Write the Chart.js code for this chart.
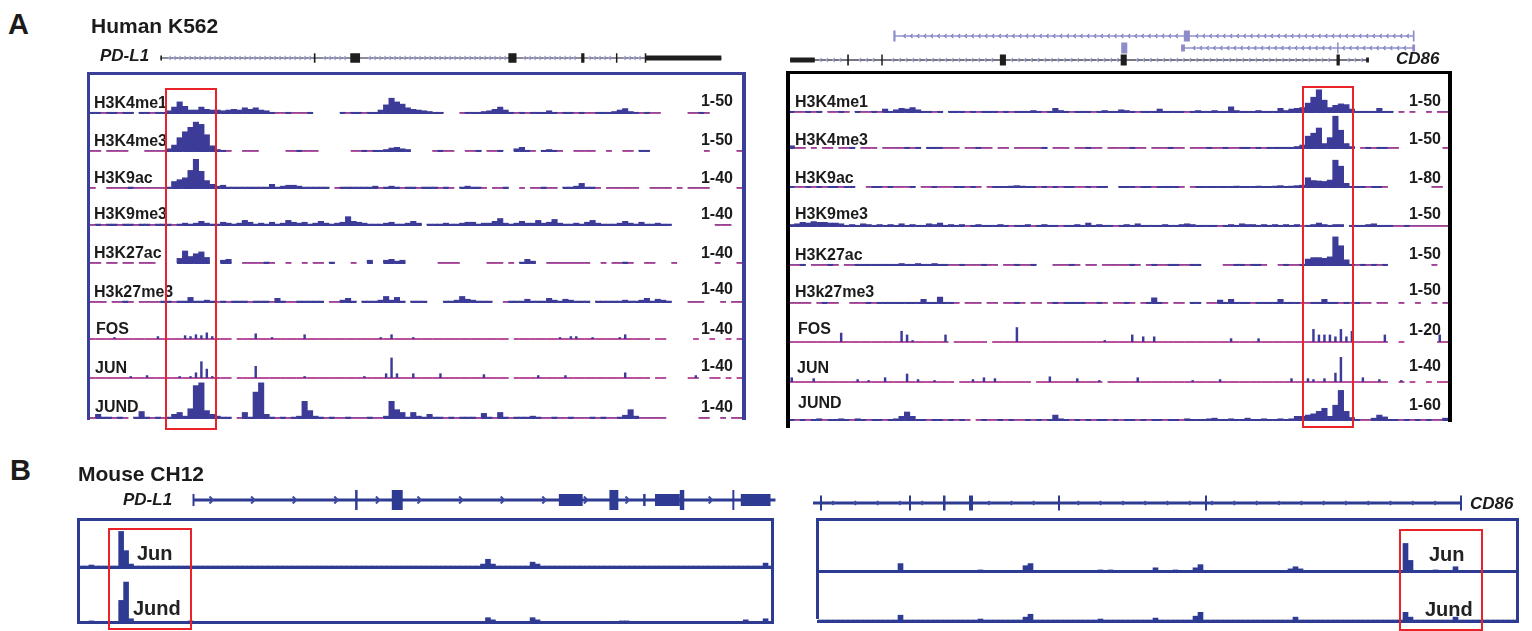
<!DOCTYPE html>
<html>
<head>
<meta charset="utf-8">
<title>PD-L1 / CD86 tracks</title>
<script src="https://cdn.jsdelivr.net/npm/chart.js@4.4.1/dist/chart.umd.min.js"></script>
<style>
  body { margin: 0; background: #fff; }
  #page { position: relative; width: 1532px; height: 631px; overflow: hidden; font-family: "Liberation Sans", Arial, Helvetica, sans-serif; }
  #page canvas, #page .txt, #page .rule { position: absolute; }
  .txt { white-space: nowrap; font-weight: bold; color: #1b1b1b; }
</style>
</head>
<body>
<div id="page"></div>
<script>
// ---- data ----------------------------------------------------------------
const markNames = ["H3K4me1", "H3K4me3", "H3K9ac", "H3K9me3", "H3K27ac", "H3k27me3", "FOS", "JUN", "JUND"]
const pdl1Scales = ["1-50", "1-50", "1-40", "1-40", "1-40", "1-40", "1-40", "1-40", "1-40"]
const cd86Scales = ["1-50", "1-50", "1-80", "1-50", "1-50", "1-50", "1-20", "1-40", "1-60"]
const spikyTracks = ["FOS", "JUN"]

// genome bins across each browser window (null = no coverage)
const humanBins = Array.from({ length: 120 }, (_, i) => i)
const mouseBins = Array.from({ length: 140 }, (_, i) => i)

// K562, PD-L1 locus
const pdl1H3K4me1 = [
  1, 1, 0, 1, 1, 0, 1, 1, null, 1,
  1, 0, 1, 1, 3, 8, 15, 9, 4, 4,
  8, 5, 4, 4, 3, 4, 5, 4, 7, 5,
  7, 4, 3, 1, 0, 0, 1, 0, 0, 0,
  1, null, null, null, null, null, 1, 0, 1, 1,
  0, 1, 1, 4, 11, 20, 15, 12, 7, 5,
  4, 3, 2, 1, 1, null, null, null, 0, 1,
  1, 1, 2, 3, 5, 8, 4, 1, 0, 1,
  0, 1, 1, 1, 3, 1, 0, 1, 1, 0,
  1, 0, 0, 1, 1, 1, 2, 4, 6, 2,
  1, 0, 1, 0, 0, null, null, null, null, null,
  0, 0, 1, 0, null, null, null, null, null, null,
]
const pdl1H3K4me3 = [
  0, 0, null, 0, 0, 0, 0, null, null, null,
  0, 0, 0, 0, 3, 8, 18, 26, 32, 39,
  36, 22, 7, 2, 1, 0, null, null, 0, 0,
  0, null, null, null, null, null, 0, 0, 1, 0,
  0, 0, null, null, null, null, null, null, 0, 0,
  1, 0, 1, 1, 2, 4, 5, 3, 2, null,
  null, null, null, 0, 1, 0, 0, null, null, 0,
  0, 1, null, 0, 0, 1, null, null, 3, 5,
  1, 0, null, 1, 2, 1, 0, null, null, 0,
  0, 0, 0, null, null, 0, null, null, 0, 0,
  null, 1, 1, null, null, null, null, null, null, null,
  null, null, null, 0, null, null, null, null, null, 0,
]
const pdl1H3K9ac = [
  0, null, null, 0, 0, 0, 0, 1, 0, 0,
  0, 0, 0, 0, 1, 7, 9, 11, 19, 31,
  18, 8, 4, 2, 3, 1, 1, 1, 1, 1,
  1, 1, 1, 4, 1, 2, 3, 3, 2, 1,
  1, 1, 1, 1, null, 0, 1, 1, 1, 1,
  1, 1, 2, 0, 1, 2, 1, 0, 1, 1,
  0, 1, 1, 1, 0, 1, 0, null, 1, 2,
  1, 1, 0, null, 0, 0, 1, null, null, 0,
  null, 0, 0, 1, 0, 0, null, 1, 1, 2,
  5, 1, 1, 0, null, 0, 0, 0, 0, 0,
  0, null, null, 0, 0, 0, 0, null, 0, null,
  0, 0, 0, 0, null, null, null, null, null, 0,
]
const pdl1H3K9me3 = [
  0, 1, 0, 1, 1, 0, 1, 1, 0, 1,
  1, 0, 1, 1, 1, 0, 1, 2, 1, 2,
  4, 2, 1, 1, 3, 2, 1, 2, 5, 3,
  1, 2, 1, 3, 1, 2, 5, 3, 2, 3,
  1, 2, 4, 2, 1, 2, 3, 9, 4, 3,
  2, 1, 1, 1, 2, 3, 1, 1, 2, 4,
  2, null, 1, 1, 1, 2, 1, 1, 2, 3,
  3, 1, 2, 2, 4, 7, 2, 1, 2, 4,
  2, 2, 5, 2, 3, 6, 2, 1, 1, 2,
  1, 3, 5, 2, 1, 1, 1, 2, 4, 2,
  1, 3, 1, 1, 2, 1, 1, null, null, null,
  null, null, null, null, null, 0, 0, 0, null, null,
]
const pdl1H3K27ac = [
  0, 0, null, 0, 0, null, 0, 0, null, 0,
  0, 0, null, null, null, null, 5, 13, 7, 10,
  12, 6, null, null, 3, 4, null, null, 0, 0,
  0, 0, 1, 0, null, null, 0, null, null, 0,
  null, 0, 0, null, 1, null, null, null, 0, null,
  null, 3, null, null, 3, 4, 2, 3, null, null,
  null, null, null, null, 0, 0, 0, 0, null, null,
  null, null, null, 0, 0, 0, null, 0, null, 1,
  4, 2, null, null, 0, 0, 0, 0, 0, 0,
  0, 0, null, null, 0, null, 0, 0, 1, 0,
  null, null, 0, 0, null, null, null, 0, null, null,
  null, null, null, null, null, 0, null, null, null, 0,
]
const pdl1H3k27me3 = [
  0, 0, 0, null, 0, 0, 1, 0, null, 0,
  0, 0, 0, 1, 1, 0, 1, 1, 5, 1,
  1, 2, 1, 0, 1, 0, 1, 1, 1, 0,
  1, 1, 1, 0, 4, 1, 0, 0, 1, 1,
  1, 1, 1, null, 0, 0, 2, 4, 1, null,
  1, 1, 1, 2, 6, 2, 5, 1, null, 1,
  1, 1, null, null, null, 1, 1, 2, 6, 3,
  2, 1, 1, 1, null, null, 0, 1, 1, 1,
  3, 1, 1, 1, 4, 2, 1, 3, 2, 1,
  1, 1, null, 1, 1, 1, 1, 1, 2, 1,
  1, 2, 4, 1, 3, 2, 1, null, null, null,
  0, 0, 0, null, null, null, 0, null, 0, 0,
]
const pdl1Fos = [
  0, 0, 0, 0, 2, 0, 0, 0, 0, 0,
  0, 0, 3, 0, 0, 0, 0, 4, 3, 5,
  4, 7, 3, 0, 0, 0, null, 0, 0, 0,
  6, 0, 0, 2, 0, 0, 0, 0, 0, 5,
  0, 0, 0, 0, 0, 0, 0, 0, 0, 0,
  0, 0, 0, 2, 0, 5, 0, 0, 0, 2,
  0, 0, 0, 0, 0, 0, 0, 0, 0, 0,
  0, 0, 0, 0, 0, 0, 0, null, 0, 0,
  0, 0, 0, 0, 0, 0, 2, 0, 3, 3,
  0, 0, 2, 0, 0, 0, 0, 2, 5, 0,
  0, 0, 0, null, 0, 0, null, null, null, null,
  null, 0, null, null, 0, null, null, 0, null, 0,
]
const pdl1Jun = [
  0, 0, 0, 0, 0, 0, 0, 2, 0, 0,
  3, 0, 0, 0, 0, 0, 2, 0, 2, 6,
  18, 10, 2, 0, 0, 0, null, 0, 0, 0,
  13, 0, 0, 0, 0, 0, 0, 0, 0, 2,
  0, 0, 0, 0, 0, 0, 0, 0, 0, 0,
  2, 0, 0, 0, 5, 22, 5, 0, 0, 5,
  0, 0, 0, 0, 5, 0, 0, 0, 0, 0,
  0, 0, 4, 0, 0, 0, 0, null, 0, 0,
  0, 0, 3, 0, 0, 0, 0, 3, 0, 0,
  0, 0, 0, 0, 0, 0, 0, 0, 6, 0,
  0, 0, 0, null, 0, 0, null, null, null, null,
  0, 3, null, null, 0, 0, null, 0, null, 0,
]
const pdl1Jund = [
  0, 4, 1, 1, 0, 1, 0, null, 1, 7,
  1, 0, 1, 0, 1, 4, 6, 2, 10, 35,
  38, 8, 4, 2, 1, 1, null, 0, 6, 1,
  28, 38, 4, 1, 0, 1, 0, 1, 2, 18,
  8, 2, 1, 0, 1, 0, 0, 1, 0, 0,
  0, 1, 0, 0, 2, 18, 9, 6, 1, 6,
  2, 1, 4, 1, 1, 0, 1, 0, 1, 1,
  1, 0, 5, 1, 0, 6, 1, 0, 1, 1,
  1, 2, 1, 0, 0, 1, 0, 0, 1, 0,
  0, 0, 1, 0, 1, 0, 0, 1, 3, 9,
  2, 0, 0, 0, 0, 0, null, null, null, null,
  null, null, 0, 0, null, null, 0, null, 0, 0,
]

// K562, CD86 locus
const cd86H3K4me1 = [
  1, 0, 0, 1, 0, 1, null, 0, 0, 1,
  0, null, 1, 0, 0, 1, 0, 4, 1, 3,
  5, 4, 6, 3, 1, 1, 0, 1, null, 1,
  1, 1, 0, 1, 0, 1, 1, 1, 0, 1,
  0, 1, 1, 1, 2, 1, 0, 1, 5, 2,
  1, 0, 1, 1, 1, 0, 1, 2, 1, 1,
  3, 2, 1, 0, 1, 1, 1, 4, 1, 1,
  1, 1, 0, 1, 2, 1, 1, 2, 1, 1,
  7, 2, 1, 1, 1, 2, 1, 1, 1, 5,
  2, 4, 5, 6, 12, 20, 30, 16, 6, 9,
  11, 10, 4, 1, 1, 1, 1, 5, 1, 1,
  null, 0, null, 0, null, null, 0, null, 0, 0,
]
const cd86H3K4me3 = [
  3, 0, 0, null, 0, null, 0, 0, null, 0,
  0, 1, null, 0, 0, 0, null, 0, 0, 0,
  0, 1, 0, 1, null, 1, 1, 1, 0, 0,
  0, null, 0, 0, 1, 0, 0, null, 0, 0,
  null, 0, 0, 0, 0, 0, 1, null, 0, 0,
  0, null, 0, 0, 1, 0, 0, null, 0, 0,
  0, 0, 1, 0, 0, null, 0, 0, 0, 1,
  0, 0, null, 0, 0, 0, 1, 0, 0, 1,
  0, 0, 1, 1, 0, 1, 0, 1, 1, 1,
  1, 1, 2, 4, 16, 20, 27, 6, 14, 43,
  24, 6, 2, null, 0, 1, 0, 1, 1, 0,
  0, null, null, null, null, null, null, null, null, 0,
]
const cd86H3K9ac = [
  1, 0, 0, 1, 0, 1, 0, 1, 1, 0,
  1, 1, null, null, 0, 1, 1, 0, 1, 0,
  0, 0, 1, null, 0, 0, 1, 0, 0, 0,
  1, 1, 0, 1, 0, null, 0, 1, 1, 1,
  2, 3, 2, 1, 1, 0, 1, 0, 1, 0,
  1, 1, 0, 0, 1, 0, 1, 1, null, null,
  1, 1, 1, 0, 1, 1, 0, 1, 1, 1,
  1, 0, null, 0, 1, 1, 1, 1, 1, 1,
  1, 2, 1, 1, 1, 2, 1, 1, 2, 3,
  1, 2, 3, 4, 20, 14, 13, 12, 15, 58,
  45, 8, 1, 1, 1, 0, 1, 1, 0, null,
  null, null, null, null, null, null, null, 0, 0, null,
]
const cd86H3K9me3 = [
  2, 3, 5, 4, 6, 5, 5, 4, 4, 3,
  1, 2, 1, 3, 2, 1, 2, 1, 2, 1,
  3, 1, 2, 1, 1, 3, 2, 4, 1, 2,
  1, 2, 0, 1, 2, 1, 1, 1, 2, 1,
  0, 1, 1, 2, 0, 1, 2, 1, 1, 0,
  1, 1, 2, 1, 4, 1, 2, 1, 1, 0,
  1, 2, 1, 3, 1, 1, 1, 1, 2, 1,
  1, 2, 3, 2, 1, 1, 1, 1, 0, 1,
  2, 1, 3, 2, 2, 1, 2, 1, 2, 1,
  2, 1, 2, 0, 1, 2, 4, 2, 1, 2,
  2, null, 1, 1, 1, 2, 3, 1, 1, 1,
  0, 0, 1, 0, 0, 0, 0, 0, 0, 0,
]
const cd86H3K27ac = [
  0, 0, 1, null, 0, 0, 0, 1, 0, null,
  0, 0, 1, 1, 1, 1, 1, 1, 1, 1,
  2, 1, 1, 2, 1, 1, 2, 1, 1, 0,
  0, 1, 0, 0, 0, 1, 0, 0, null, 0,
  0, 1, 0, 0, 1, null, null, null, 0, 0,
  0, 1, 0, null, 0, 0, null, 0, 0, 0,
  0, 0, 1, 0, null, 0, 1, 0, 0, 1,
  1, 0, 0, 1, 1, null, null, null, null, 0,
  0, 1, 1, 0, 1, 1, 0, null, null, 0,
  1, 0, 0, 1, 8, 10, 10, 9, 11, 38,
  26, 7, 1, 0, 1, 0, 1, 0, 1, null,
  null, null, null, null, null, null, null, 0, null, null,
]
const cd86H3k27me3 = [
  0, 0, 0, 0, null, 0, 1, 0, 0, null,
  null, 0, 0, 0, 1, 0, 1, 1, 1, 1,
  1, 1, 1, 1, 5, 1, 1, 8, 1, 1,
  0, null, 0, 0, 0, null, 0, 0, null, 0,
  0, 1, 0, null, 0, 0, null, 0, 1, 0,
  1, 1, 1, 1, 0, 0, 1, 0, null, 0,
  0, 1, 0, null, 0, 1, 7, 1, 0, null,
  0, 0, null, 1, 1, null, 0, 0, 4, 1,
  5, 1, 1, 1, 0, 1, 1, 1, 1, 5,
  1, 1, 1, 0, 0, 1, 1, 5, 1, 1,
  0, 1, 0, 1, 0, 0, null, 0, 0, null,
  null, 0, null, null, 0, null, null, 0, null, 0,
]
const cd86Fos = [
  0, 0, 0, 0, 0, 0, 0, 0, 0, 5,
  0, 0, 0, 0, 0, 0, 0, 0, 0, 0,
  6, 4, 1, 0, 0, 0, 0, 0, 4, null,
  0, 0, 0, 0, 0, 0, null, 0, 0, 0,
  0, 8, 0, 0, 0, 0, 0, 0, 0, 0,
  0, 0, 0, 0, 0, 0, 0, 1, 0, 0,
  0, 0, 4, 0, 3, 0, 3, 0, 0, 0,
  0, 0, 0, 0, 0, 0, 0, 0, 0, 0,
  2, 0, 0, 0, 0, 2, 0, 0, 0, 0,
  0, 0, 0, 0, 0, 7, 4, 4, 4, 3,
  7, 3, 6, 0, 0, 0, 0, 0, 4, null,
  null, 0, null, null, null, null, null, null, 4, 0,
]
const cd86Jun = [
  5, 0, 0, 0, 4, 0, 0, 0, 0, 0,
  0, 0, 3, 0, 2, 0, 0, 5, 0, 0,
  0, 9, 0, 3, 0, 0, 2, 0, 0, 0,
  null, 0, 0, 3, 0, 5, 0, 4, 0, 0,
  0, 0, 0, 0, null, 0, 0, 6, 0, 0,
  0, 0, 4, 0, 0, 0, 2, null, 0, 0,
  0, 0, 0, 5, 0, 0, 0, 0, 0, 0,
  0, 0, 0, 2, 0, 0, 0, 0, 3, 0,
  0, 0, 0, 0, 0, 0, 0, 0, 0, 0,
  0, 4, 0, 0, 4, 3, 0, 4, 0, 10,
  27, 0, 0, 0, 5, 0, 0, 3, 0, null,
  null, 2, null, 0, null, null, 0, null, 0, 0,
]
const cd86Jund = [
  1, 0, 1, 0, 1, 2, 0, 1, 1, 2,
  1, 0, 2, 1, 0, 1, 1, 0, 1, 2,
  6, 13, 6, 1, 1, 0, 1, 1, 0, 1,
  0, 1, 0, null, 0, 1, 0, 0, 1, 0,
  1, 0, 0, 1, 0, 1, 0, 1, 8, 2,
  1, 0, 1, 0, 1, 0, 1, 1, 0, 1,
  0, 1, 1, 0, 1, 0, 1, 1, 0, 1,
  1, 0, 2, 1, 1, 1, 2, 3, 1, 1,
  2, 1, 1, 3, 1, 1, 2, 1, 1, 2,
  1, 2, 6, 6, 8, 10, 14, 19, 6, 24,
  48, 14, 4, 1, 0, 0, 3, 8, 5, 1,
  1, 0, 1, 0, 1, 0, 1, 0, 0, 3,
]

// CH12 (mouse), scale 0-50
const mousePdl1Jun = [
  0, 0, 1, 0, 0, 0, 0, 0, 36, 16,
  2, 0, 0, 0, 0, 0, 0, 0, 0, 0,
  0, 0, 0, 0, 0, 0, 0, 0, 0, 0,
  0, 0, 0, 0, 0, 0, 0, 0, 0, 0,
  0, 0, 0, 0, 0, 0, 0, 0, 0, 0,
  0, 0, 0, 0, 0, 0, 0, 0, 0, 0,
  0, 0, 0, 0, 0, 0, 0, 0, 0, 0,
  0, 0, 0, 0, 0, 0, 0, 0, 0, 0,
  0, 2, 7, 2, 0, 0, 0, 0, 0, 0,
  0, 4, 2, 0, 0, 0, 0, 0, 0, 0,
  0, 0, 0, 0, 0, 0, 0, 0, 0, 0,
  0, 0, 0, 0, 0, 0, 0, 0, 0, 0,
  0, 0, 0, 0, 0, 0, 0, 0, 0, 0,
  0, 0, 0, 0, 0, 0, 0, 0, 3, 0,
]
const mousePdl1Jund = [
  0, 0, 1, 0, 0, 0, 0, 0, 20, 37,
  3, 0, 0, 0, 0, 0, 0, 0, 0, 0,
  0, 0, 1, 0, 0, 0, 0, 0, 0, 0,
  0, 0, 0, 0, 0, 0, 0, 0, 0, 0,
  0, 0, 0, 0, 0, 0, 0, 0, 0, 0,
  0, 0, 0, 0, 0, 0, 0, 0, 0, 0,
  0, 0, 0, 0, 0, 0, 0, 0, 0, 0,
  0, 0, 0, 0, 0, 0, 0, 0, 0, 0,
  0, 0, 4, 2, 0, 0, 0, 0, 0, 0,
  0, 4, 2, 0, 0, 0, 0, 0, 0, 0,
  0, 0, 0, 0, 0, 0, 0, 0, 0, 1,
  1, 0, 0, 0, 0, 0, 0, 0, 0, 0,
  0, 0, 0, 0, 0, 0, 0, 0, 0, 0,
  0, 0, 0, 0, 2, 0, 0, 0, 3, 0,
]
const mouseCd86Jun = [
  0, 0, 0, 0, 0, 0, 0, 0, 0, 0,
  0, 0, 0, 0, 0, 0, 7, 0, 0, 0,
  0, 0, 0, 0, 0, 0, 0, 0, 0, 0,
  0, 0, 1, 0, 0, 0, 0, 0, 0, 0,
  0, 5, 7, 0, 0, 0, 0, 0, 0, 0,
  0, 0, 0, 0, 0, 0, 1, 0, 1, 0,
  0, 0, 0, 0, 0, 0, 0, 3, 0, 0,
  0, 1, 0, 0, 0, 3, 6, 0, 0, 0,
  0, 0, 0, 0, 0, 0, 0, 0, 0, 0,
  0, 0, 0, 0, 2, 4, 2, 0, 0, 0,
  0, 0, 0, 0, 0, 0, 0, 0, 0, 0,
  0, 0, 0, 0, 0, 0, 0, 26, 10, 0,
  0, 0, 0, 1, 0, 0, 0, 4, 0, 0,
  0, 0, 0, 0, 0, 0, 0, 0, 0, 0,
]
const mouseCd86Jund = [
  0, 0, 0, 0, 0, 0, 0, 0, 0, 0,
  0, 0, 0, 0, 0, 0, 5, 0, 0, 0,
  0, 0, 0, 0, 0, 0, 0, 0, 0, 0,
  0, 0, 1, 0, 0, 0, 0, 0, 0, 0,
  0, 3, 6, 0, 0, 0, 0, 0, 0, 0,
  0, 0, 0, 0, 0, 0, 1, 0, 0, 0,
  0, 0, 0, 0, 0, 0, 0, 2, 0, 0,
  0, 0, 0, 0, 0, 4, 8, 0, 0, 0,
  0, 0, 0, 0, 0, 0, 0, 0, 0, 0,
  0, 0, 0, 0, 0, 3, 0, 0, 0, 0,
  0, 0, 0, 0, 0, 0, 0, 0, 0, 0,
  0, 0, 0, 0, 0, 0, 0, 8, 3, 0,
  0, 0, 0, 0, 0, 0, 0, 3, 0, 0,
  0, 0, 0, 0, 0, 0, 0, 0, 0, 0,
]
const mouseScaleMax = 50

// gene models in window bins: span [start, end], exons [start, end, kind] (kind 1 = coding, 0 = UTR)
const humanPdl1Span = [13.0, 116.2]
const humanPdl1Exons = [[12.95, 13.25, 0], [41.2, 41.5, 1], [47.9, 49.7, 1], [77.0, 78.5, 1], [90.4, 91.0, 1], [96.8, 97.0, 1], [102.1, 102.3, 1], [102.3, 116.2, 0]]
const humanCd86aSpan = [19.1, 113.8]
const humanCd86aExons = [[19.0, 19.4, 1], [71.9, 73.0, 1], [113.6, 113.9, 1]]
const humanCd86bSpan = [71.8, 113.8]
const humanCd86bExons = [[60.5, 61.6, 1], [71.4, 72.1, 0], [99.8, 100.0, 1], [113.5, 114.0, 0]]
const humanCd86cSpan = [0.2, 105.5]
const humanCd86cExons = [[0.2, 4.7, 0], [10.6, 10.9, 1], [16.8, 17.0, 1], [38.4, 39.5, 1], [60.4, 61.5, 1], [99.7, 100.3, 1], [105.1, 105.6, 0]]
const mousePdl1Span = [23.0, 140.5]
const mousePdl1Exons = [[22.9, 23.3, 0], [55.7, 56.2, 1], [63.1, 65.3, 1], [96.8, 101.6, 0], [107.0, 108.8, 1], [113.8, 114.3, 0], [116.2, 121.2, 0], [121.2, 122.1, 1], [131.8, 132.2, 1], [133.5, 139.5, 0]]
const mouseCd86Span = [-1.0, 128.6]
const mouseCd86Exons = [[0.4, 0.8, 1], [18.2, 18.6, 1], [25.0, 25.5, 1], [30.2, 31.0, 1], [48.0, 48.4, 1], [77.4, 77.8, 1], [128.4, 128.8, 1]]

// ---- layout --------------------------------------------------------------
const page = document.querySelector("#page")
const humanLeft = { x: 90, w: 652, n: humanBins.length }
const humanRight = { x: 789, w: 659, n: humanBins.length }
const mouseLeft = { x: 79, w: 694, n: mouseBins.length }
const mouseRight = { x: 818, w: 700, n: mouseBins.length }

const leftBaselines = [113, 151, 188, 225, 263, 302, 339, 378, 418]
const rightBaselines = [112, 148, 187, 226, 265, 303, 342, 382, 420]
const leftNameY = [102.5, 140.8, 177.5, 213.8, 252.5, 291.7, 328.3, 367.5, 406.5]
const rightNameY = [101.2, 139.7, 177.2, 213.3, 254.2, 291.8, 328.8, 367.2, 402.2]
const leftScaleY = [100.8, 139.2, 177.5, 213.8, 252.8, 288.5, 328.5, 365.5, 406.8]
const rightScaleY = [100, 138.7, 177, 213.3, 253.8, 289.5, 329.7, 365.5, 404.5]
const leftNameX = [94, 94, 94, 94, 94, 94, 96, 95, 95]
const rightNameX = [795, 795, 795, 795, 795, 795, 798, 797, 798]

const BLUE = "#3d3b98"
const MAGENTA = "#b8509c"
const NAVY = "#2e3b92"
const RED = "#e8232a"

const addText = (text, x, cy, size, opts = {}) => {
  const el = document.createElement("div")
  el.className = "txt"
  el.textContent = text
  const lh = Math.round(size * 1.2)
  el.style.fontSize = size + "px"
  el.style.lineHeight = lh + "px"
  el.style.top = cy - lh / 2 + "px"
  if (opts.right !== undefined) el.style.right = 1532 - opts.right + "px"
  else el.style.left = x + "px"
  if (opts.italic) el.style.fontStyle = "italic"
  if (opts.color) el.style.color = opts.color
  page.appendChild(el)
}

const addRule = (x, y, w, h, color) => {
  const el = document.createElement("div")
  el.className = "rule"
  el.style.cssText = `left:${x}px;top:${y}px;width:${w}px;height:${h}px;background:${color};`
  page.appendChild(el)
}

const addFrame = (x, y, w, h, color) => {
  const el = document.createElement("div")
  el.className = "rule"
  el.style.cssText = `left:${x}px;top:${y}px;width:${w}px;height:${h}px;border:2px solid ${color};box-sizing:border-box;`
  page.appendChild(el)
}

// coverage baseline: magenta where a bin is empty, signal colour where it has reads
const trackBaseline = (style) => ({
  id: "trackBaseline",
  beforeDatasetsDraw(chart) {
    if (!style.baseline) return
    const { ctx, scales: { x, y } } = chart
    const values = chart.data.datasets[0].data
    const y0 = y.getPixelForValue(0)
    const w = x.width / values.length
    values.forEach((v, i) => {
      if (v === null) return
      ctx.fillStyle = v > 0 && !style.spiky ? style.color : style.baseline
      ctx.fillRect(x.getPixelForValue(i) - w / 2, y0 - 1, w + 0.3, 2)
    })
  },
})

const makeTrack = (values, labels, box, baseline, height, max, style) => {
  const canvas = document.createElement("canvas")
  canvas.width = box.w
  canvas.height = height + 3
  canvas.style.left = box.x + "px"
  canvas.style.top = baseline - height + "px"
  page.appendChild(canvas)
  new Chart(canvas, {
    type: "bar",
    data: {
      labels,
      datasets: [{
        data: values,
        backgroundColor: style.color,
        borderWidth: 0,
        barPercentage: style.spiky ? 0.45 : 1,
        categoryPercentage: 1,
      }],
    },
    options: {
      responsive: false,
      animation: false,
      devicePixelRatio: 1,
      layout: { padding: { left: 0, right: 0, top: 0, bottom: 3 } },
      plugins: { legend: { display: false }, tooltip: { enabled: false } },
      scales: {
        x: { display: false },
        y: { display: false, min: 0, max },
      },
    },
    plugins: [trackBaseline(style)],
  })
}

// gene model: intron line with strand marks, exon boxes on top
const geneModel = (transcripts) => ({
  id: "geneModel",
  afterDraw(chart) {
    const { ctx, scales: { x, y } } = chart
    transcripts.forEach((t) => {
      const yc = y.getPixelForValue(t.row)
      const x0 = x.getPixelForValue(t.span[0])
      const x1 = x.getPixelForValue(t.span[1])
      const exonPx = t.exons.map(([s, e, kind]) => [x.getPixelForValue(s), x.getPixelForValue(e), kind])
      ctx.save()
      ctx.fillStyle = t.line
      ctx.fillRect(x0, yc - t.lineWidth / 2, x1 - x0, t.lineWidth)
      ctx.strokeStyle = t.mark
      ctx.fillStyle = t.mark
      ctx.lineWidth = t.markWidth
      for (let px = x0 + t.markStart; px < x1 - 3; px += t.step) {
        if (exonPx.some(([a, b]) => px > a - 4 && px < b + 4)) continue
        ctx.beginPath()
        if (t.markType === "dot") {
          const s = t.markSize
          ctx.moveTo(px - s, yc)
          ctx.lineTo(px, yc - s)
          ctx.lineTo(px + s, yc)
          ctx.lineTo(px, yc + s)
          ctx.closePath()
          ctx.fill()
        } else {
          const d = t.markType === "right" ? 1 : -1
          ctx.moveTo(px - d * t.markSize, yc - t.markSize)
          ctx.lineTo(px, yc)
          ctx.lineTo(px - d * t.markSize, yc + t.markSize)
          ctx.stroke()
        }
      }
      ctx.fillStyle = t.exon
      exonPx.forEach(([a, b, kind]) => {
        const h = kind ? t.cds : t.utr
        ctx.fillRect(a, yc - h / 2, Math.max(b - a, 1.5), h)
      })
      ctx.restore()
    })
  },
})

const makeGene = (box, top, height, transcripts) => {
  const canvas = document.createElement("canvas")
  canvas.width = box.w + 24
  canvas.height = height
  canvas.style.left = box.x - 12 + "px"
  canvas.style.top = top + "px"
  page.appendChild(canvas)
  new Chart(canvas, {
    type: "scatter",
    data: { datasets: [] },
    options: {
      responsive: false,
      animation: false,
      devicePixelRatio: 1,
      layout: { padding: { left: 12, right: 12, top: 0, bottom: 0 } },
      plugins: { legend: { display: false }, tooltip: { enabled: false } },
      scales: {
        x: { type: "linear", display: false, min: 0, max: box.n },
        y: { type: "linear", display: false, min: 0, max: height, reverse: true },
      },
    },
    plugins: [geneModel(transcripts)],
  })
}

const rangeMax = (label) => Number(label.split("-")[1])

// ---- panel A : human K562 ----------------------------------------------
const pdl1Tracks = [pdl1H3K4me1, pdl1H3K4me3, pdl1H3K9ac, pdl1H3K9me3, pdl1H3K27ac, pdl1H3k27me3, pdl1Fos, pdl1Jun, pdl1Jund]
const cd86Tracks = [cd86H3K4me1, cd86H3K4me3, cd86H3K9ac, cd86H3K9me3, cd86H3K27ac, cd86H3k27me3, cd86Fos, cd86Jun, cd86Jund]
const humanStyle = (name) => ({ color: BLUE, baseline: MAGENTA, spiky: spikyTracks.includes(name) })

pdl1Tracks.forEach((values, i) => {
  makeTrack(values, humanBins, humanLeft, leftBaselines[i], 37, rangeMax(pdl1Scales[i]), humanStyle(markNames[i]))
})
cd86Tracks.forEach((values, i) => {
  makeTrack(values, humanBins, humanRight, rightBaselines[i], 37, rangeMax(cd86Scales[i]), humanStyle(markNames[i]))
})

const humanLine = { lineWidth: 1.6, markType: "left", markSize: 2, markWidth: 1.1, markStart: 3, cds: 9.5, utr: 5 }
makeGene(humanLeft, 46, 24, [
  { ...humanLine, span: humanPdl1Span, exons: humanPdl1Exons, row: 12, line: "#6f6f80", mark: "#a4a4da", exon: "#1e1e1e", step: 5 },
])
makeGene(humanRight, 26, 42, [
  { ...humanLine, span: humanCd86aSpan, exons: humanCd86aExons, row: 10, line: "#9a9ad0", mark: "#8080c4", exon: "#8c8cc8", step: 6.8, cds: 11, utr: 7 },
  { ...humanLine, span: humanCd86bSpan, exons: humanCd86bExons, row: 22, line: "#9a9ad0", mark: "#8080c4", exon: "#8c8cc8", step: 6.8, cds: 11, utr: 7 },
  { ...humanLine, span: humanCd86cSpan, exons: humanCd86cExons, row: 34, line: "#55555f", mark: "#a4a4da", exon: "#1e1e1e", step: 6.6, cds: 11, utr: 5 },
])

// panel frames
addRule(87, 72, 3, 348, "#3a3f9a")
addRule(87, 72, 659, 3, "#3a3f9a")
addRule(742, 72, 4, 348, "#3a3f9a")
addRule(786, 71, 4, 357, "#000")
addRule(786, 71, 666, 3, "#000")
addRule(1448, 71, 4, 351, "#000")

markNames.forEach((name, i) => {
  addText(name, leftNameX[i], leftNameY[i], 16)
  addText(name, rightNameX[i], rightNameY[i], 16)
  addText(pdl1Scales[i], 0, leftScaleY[i], 16, { right: 733 })
  addText(cd86Scales[i], 0, rightScaleY[i], 16, { right: 1441 })
})

addText("A", 8, 24.5, 29)
addText("Human K562", 91, 25.8, 21)
addText("PD-L1", 100, 56.3, 17, { italic: true })
addText("CD86", 1396, 58.8, 17, { italic: true })

addFrame(165, 88, 52, 342, RED)
addFrame(1302, 86, 52, 342, RED)

// ---- panel B : mouse CH12 ----------------------------------------------
const mouseStyle = { color: NAVY, baseline: null, spiky: false }
makeTrack(mousePdl1Jun, mouseBins, mouseLeft, 566, 48, mouseScaleMax, mouseStyle)
makeTrack(mousePdl1Jund, mouseBins, mouseLeft, 621.5, 54, mouseScaleMax, mouseStyle)
makeTrack(mouseCd86Jun, mouseBins, mouseRight, 570.5, 53, mouseScaleMax, mouseStyle)
makeTrack(mouseCd86Jund, mouseBins, mouseRight, 620, 48, mouseScaleMax, mouseStyle)

const mouseLine = { line: NAVY, mark: "#3d4aa3", exon: NAVY, lineWidth: 3, markWidth: 2, markSize: 3.5 }
makeGene(mouseLeft, 486, 28, [
  { ...mouseLine, span: mousePdl1Span, exons: mousePdl1Exons, row: 14, markType: "right", step: 41.6, markStart: 20, cds: 20, utr: 12 },
])
makeGene(mouseRight, 489, 28, [
  { ...mouseLine, span: mouseCd86Span, exons: mouseCd86Exons, row: 14, markType: "dot", markSize: 2.6, step: 22.3, markStart: 20, cds: 15, utr: 10 },
])

// box outlines; the inner rules are the track baselines
addRule(77, 518, 697, 3, NAVY)
addRule(77, 566, 697, 3, NAVY)
addRule(77, 621, 697, 3, NAVY)
addRule(77, 518, 2.5, 106, NAVY)
addRule(771, 518, 3, 106, NAVY)
addRule(816, 518, 703, 3, NAVY)
addRule(817, 570, 702, 3, NAVY)
addRule(817, 620, 702, 3, NAVY)
addRule(816, 518, 2.5, 101, NAVY)
addRule(1516, 518, 3, 105, NAVY)

addText("Jun", 137, 552.5, 20, { color: "#222" })
addText("Jund", 133, 608, 20, { color: "#222" })
addText("Jun", 1429, 554, 20, { color: "#222" })
addText("Jund", 1425, 609, 20, { color: "#222" })

addText("B", 10, 470.3, 29)
addText("Mouse CH12", 78, 473.3, 21)
addText("PD-L1", 123, 499.5, 17, { italic: true })
addText("CD86", 1470, 503.8, 17, { italic: true })

addFrame(108, 528, 84, 102, RED)
addFrame(1399, 529, 84, 102, RED)
</script>
</body>
</html>
